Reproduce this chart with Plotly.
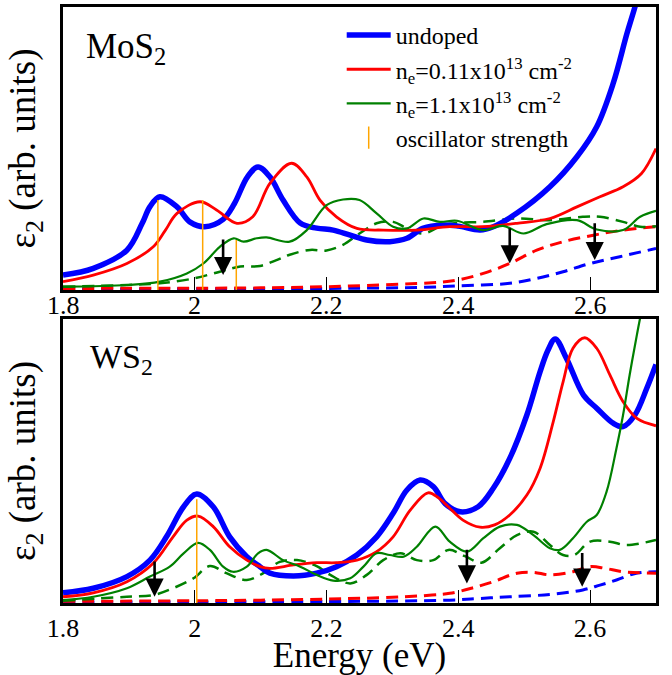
import plotly.graph_objects as go

# ---------------- MoS2 (top panel) ----------------
mos2_undoped_E = [1.80, 1.846, 1.897, 1.92, 1.932, 1.947, 1.973, 1.993, 2.015, 2.043, 2.06, 2.08, 2.096, 2.114, 2.134, 2.16,
                  2.185, 2.21, 2.236, 2.261, 2.296, 2.322, 2.346, 2.377, 2.40, 2.433, 2.453, 2.489, 2.539, 2.58, 2.61,
                  2.635, 2.656, 2.668, 2.685, 2.70]
mos2_undoped_eps = [0.53, 0.77, 1.41, 2.35, 2.95, 3.30, 2.94, 2.40, 2.24, 2.50, 3.05, 4.0, 4.35, 4.0, 3.18, 2.37,
                    2.19, 2.12, 1.94, 1.77, 1.71, 1.83, 2.18, 2.30, 2.26, 2.12, 2.24, 2.72, 3.65, 4.71, 5.77,
                    7.3, 9.07, 10.0, 11.5, 12.5]

mos2_n011_E = [1.80, 1.846, 1.897, 1.937, 1.955, 1.973, 2.008, 2.033, 2.064, 2.088, 2.114, 2.147, 2.17, 2.19, 2.215,
               2.246, 2.286, 2.337, 2.387, 2.437, 2.489, 2.539, 2.58, 2.615, 2.65, 2.678, 2.70]
mos2_n011_eps = [0.30, 0.53, 0.94, 1.53, 2.10, 2.71, 3.12, 2.83, 2.36, 2.59, 3.77, 4.48, 4.0, 3.18, 2.59,
                 2.18, 2.12, 2.12, 2.24, 2.24, 2.36, 2.53, 2.94, 3.30, 3.65, 4.12, 5.0]

mos2_n11_E = [1.80, 1.897, 1.947, 1.988, 2.013, 2.038, 2.059, 2.074, 2.094, 2.109, 2.144, 2.17, 2.20, 2.225, 2.25,
              2.276, 2.301, 2.322, 2.347, 2.372, 2.398, 2.437, 2.468, 2.499, 2.534, 2.58, 2.61, 2.65, 2.676, 2.70]
mos2_n11_eps = [0.12, 0.18, 0.30, 0.59, 0.94, 1.53, 1.83, 1.71, 1.83, 1.86, 1.71, 2.12, 3.0, 3.20, 3.18,
                2.71, 2.24, 2.18, 2.53, 2.41, 2.45, 2.12, 2.27, 2.0, 2.33, 2.47, 2.14, 2.12, 2.59, 2.80]

mos2_n11_dash_E = [1.80, 1.897, 1.947, 1.998, 2.038, 2.069, 2.099, 2.124, 2.144, 2.175, 2.20, 2.225, 2.25, 2.276,
                   2.301, 2.322, 2.347, 2.377, 2.40, 2.437, 2.489, 2.539, 2.589, 2.615, 2.65, 2.676, 2.70]
mos2_n11_dash_eps = [0.12, 0.18, 0.24, 0.41, 0.65, 0.83, 0.85, 1.06, 1.25, 1.42, 1.40, 1.60, 2.0, 2.36,
                     2.41, 2.18, 2.0, 2.30, 2.38, 2.41, 2.53, 2.47, 2.59, 2.59, 2.41, 2.24, 2.26]

mos2_n011_dash_E = [1.80, 2.10, 2.20, 2.30, 2.36, 2.397, 2.438, 2.478, 2.519, 2.559, 2.605, 2.65, 2.70]
mos2_n011_dash_eps = [0.06, 0.08, 0.12, 0.20, 0.26, 0.35, 0.59, 0.94, 1.41, 1.71, 1.94, 2.12, 2.24]

mos2_undoped_dash_E = [1.80, 2.20, 2.35, 2.397, 2.478, 2.519, 2.559, 2.60, 2.645, 2.70]
mos2_undoped_dash_eps = [0.04, 0.06, 0.10, 0.15, 0.24, 0.41, 0.65, 0.94, 1.18, 1.47]

mos2_osc_E = [1.944, 2.012, 2.063]
mos2_osc_h = [3.18, 3.18, 1.77]

mos2_arrow_E = [2.043, 2.478, 2.607]
mos2_arrow_tail = [1.84, 2.24, 2.41]
mos2_arrow_head = [0.53, 0.94, 1.06]

# ---------------- WS2 (bottom panel) ----------------
ws2_undoped_E = [1.80, 1.846, 1.897, 1.932, 1.957, 1.983, 2.003, 2.028, 2.053, 2.079, 2.099, 2.114, 2.15, 2.185,
                 2.215, 2.246, 2.276, 2.301, 2.322, 2.342, 2.362, 2.38, 2.403, 2.43, 2.453, 2.478, 2.504, 2.524,
                 2.536, 2.547, 2.564, 2.59, 2.61, 2.635, 2.65, 2.668, 2.686, 2.70]
ws2_undoped_eps = [0.36, 0.52, 0.93, 1.51, 2.33, 3.39, 3.84, 3.39, 2.33, 1.63, 1.28, 1.05, 0.95, 1.05,
                   1.28, 1.69, 2.33, 3.16, 3.98, 4.33, 4.1, 3.5, 3.21, 3.39, 4.04, 5.09, 6.62, 8.14,
                   8.9, 9.30, 8.62, 7.32, 6.86, 6.33, 6.21, 6.62, 7.56, 8.4]

ws2_n011_E = [1.80, 1.846, 1.897, 1.937, 1.967, 1.988, 2.005, 2.028, 2.053, 2.079, 2.099, 2.114, 2.15, 2.185, 2.215,
              2.246, 2.276, 2.301, 2.327, 2.354, 2.37, 2.385, 2.407, 2.433, 2.455, 2.478, 2.504, 2.524, 2.544,
              2.559, 2.574, 2.592, 2.61, 2.63, 2.65, 2.671, 2.70]
ws2_n011_eps = [0.22, 0.36, 0.75, 1.40, 2.33, 2.92, 3.06, 2.69, 1.98, 1.51, 1.28, 1.22, 1.34, 1.42, 1.42,
                1.51, 1.81, 2.33, 3.27, 3.88, 3.70, 3.38, 2.92, 2.67, 2.75, 3.10, 3.80, 4.74, 6.38,
                7.79, 8.97, 9.34, 8.97, 8.03, 7.09, 6.50, 6.24]

ws2_n11_E = [1.80, 1.846, 1.897, 1.932, 1.962, 1.983, 2.005, 2.023, 2.043, 2.058, 2.079, 2.096, 2.109, 2.134, 2.16,
             2.185, 2.21, 2.236, 2.256, 2.276, 2.296, 2.317, 2.337, 2.365, 2.387, 2.413, 2.438, 2.463, 2.489,
             2.514, 2.539, 2.554, 2.574, 2.595, 2.61, 2.625, 2.64, 2.65, 2.66, 2.671, 2.68, 2.70]
ws2_n11_eps = [0.10, 0.22, 0.52, 0.93, 1.28, 1.75, 2.12, 1.87, 1.28, 1.10, 1.28, 1.75, 1.87, 1.51, 1.28,
               0.99, 0.79, 0.87, 1.28, 1.75, 1.69, 1.63, 1.98, 2.69, 2.16, 1.81, 2.28, 2.69, 2.75,
               2.39, 1.93, 1.87, 2.28, 2.86, 3.10, 3.92, 5.45, 6.62, 8.03, 9.44, 10.5, 12.5]

ws2_n11_dash_E = [1.80, 1.897, 1.937, 1.967, 1.998, 2.023, 2.048, 2.079, 2.104, 2.129, 2.155, 2.185, 2.205, 2.236,
                  2.261, 2.286, 2.312, 2.337, 2.362, 2.385, 2.41, 2.435, 2.463, 2.489, 2.514, 2.539, 2.559, 2.576,
                  2.60, 2.63, 2.655, 2.70]
ws2_n11_dash_eps = [0.08, 0.22, 0.28, 0.52, 0.87, 1.30, 1.05, 0.81, 1.05, 1.45, 1.51, 1.30, 1.0, 0.69,
                    0.99, 1.51, 1.75, 1.51, 1.51, 1.87, 1.65, 1.42, 1.93, 2.39, 2.51, 2.04, 1.69, 1.69,
                    2.16, 2.16, 2.04, 2.22]

ws2_n011_dash_E = [1.80, 2.10, 2.30, 2.36, 2.387, 2.42, 2.453, 2.489, 2.514, 2.539, 2.574, 2.60, 2.623, 2.65, 2.70]
ws2_n011_dash_eps = [0.06, 0.10, 0.20, 0.28, 0.34, 0.52, 0.75, 1.05, 1.08, 0.99, 1.10, 1.28, 1.22, 1.10, 1.05]

ws2_undoped_dash_E = [1.80, 2.20, 2.387, 2.433, 2.478, 2.539, 2.589, 2.615, 2.64, 2.67, 2.70]
ws2_undoped_dash_eps = [0.04, 0.05, 0.10, 0.16, 0.22, 0.30, 0.46, 0.63, 0.81, 1.05, 1.10]

ws2_osc_E = [2.003]
ws2_osc_h = [3.65]

ws2_arrow_E = [1.939, 2.413, 2.588]
ws2_arrow_tail = [1.51, 1.93, 1.81]
ws2_arrow_head = [0.22, 0.69, 0.57]

# ---------------- axis / labels ----------------
tick_vals = [1.8, 2.0, 2.2, 2.4, 2.6]
tick_text = ["1.8", "2", "2.2", "2.4", "2.6"]
legend_names = ["undoped", "n<sub>e</sub>=0.11x10<sup>13</sup> cm<sup>-2</sup>",
                "n<sub>e</sub>=1.1x10<sup>13</sup> cm<sup>-2</sup>", "oscillator strength"]
panel_labels = ["MoS<sub>2</sub>", "WS<sub>2</sub>"]

BLUE = "#0000ff"
RED = "#ff0000"
GREEN = "#008000"
ORANGE = "#ffa500"
FONT = "Liberation Serif, Times New Roman, serif"

fig = go.Figure()


def add_panel(xa, ya, und, n011, n11, und_d, n011_d, n11_d, osc, arrows, show_legend):
    dash = "12px,7px"
    fig.add_trace(go.Scatter(x=und_d[0], y=und_d[1], mode="lines", line=dict(color=BLUE, width=3, dash=dash, shape="spline"),
                             xaxis=xa, yaxis=ya, showlegend=False))
    fig.add_trace(go.Scatter(x=n011_d[0], y=n011_d[1], mode="lines", line=dict(color=RED, width=3, dash=dash, shape="spline"),
                             xaxis=xa, yaxis=ya, showlegend=False))
    fig.add_trace(go.Scatter(x=n11_d[0], y=n11_d[1], mode="lines", line=dict(color=GREEN, width=2.5, dash=dash, shape="spline"),
                             xaxis=xa, yaxis=ya, showlegend=False))
    fig.add_trace(go.Scatter(x=und[0], y=und[1], mode="lines", line=dict(color=BLUE, width=5.5, shape="spline"),
                             xaxis=xa, yaxis=ya, name=legend_names[0], showlegend=show_legend, legendrank=1))
    fig.add_trace(go.Scatter(x=n011[0], y=n011[1], mode="lines", line=dict(color=RED, width=2.8, shape="spline"),
                             xaxis=xa, yaxis=ya, name=legend_names[1], showlegend=show_legend, legendrank=2))
    fig.add_trace(go.Scatter(x=n11[0], y=n11[1], mode="lines", line=dict(color=GREEN, width=2.2, shape="spline"),
                             xaxis=xa, yaxis=ya, name=legend_names[2], showlegend=show_legend, legendrank=3))
    ox, oy = [], []
    for e, h in zip(osc[0], osc[1]):
        ox += [e, e, None]
        oy += [0, h, None]
    fig.add_trace(go.Scatter(x=ox, y=oy, mode="lines", line=dict(color=ORANGE, width=1.5),
                             xaxis=xa, yaxis=ya, showlegend=False))
    xr = "x" if xa == "x" else "x2"
    yr = "y" if ya == "y" else "y2"
    for e, t, h in zip(arrows[0], arrows[1], arrows[2]):
        fig.add_annotation(x=e, y=h, ax=e, ay=t, xref=xr, yref=yr, axref=xr, ayref=yr, text="",
                           showarrow=True, arrowhead=2, arrowsize=1.4, arrowwidth=2.6, arrowcolor="black")


add_panel("x", "y", (mos2_undoped_E, mos2_undoped_eps), (mos2_n011_E, mos2_n011_eps), (mos2_n11_E, mos2_n11_eps),
          (mos2_undoped_dash_E, mos2_undoped_dash_eps), (mos2_n011_dash_E, mos2_n011_dash_eps),
          (mos2_n11_dash_E, mos2_n11_dash_eps), (mos2_osc_E, mos2_osc_h),
          (mos2_arrow_E, mos2_arrow_tail, mos2_arrow_head), True)
add_panel("x2", "y2", (ws2_undoped_E, ws2_undoped_eps), (ws2_n011_E, ws2_n011_eps), (ws2_n11_E, ws2_n11_eps),
          (ws2_undoped_dash_E, ws2_undoped_dash_eps), (ws2_n011_dash_E, ws2_n011_dash_eps),
          (ws2_n11_dash_E, ws2_n11_dash_eps), (ws2_osc_E, ws2_osc_h),
          (ws2_arrow_E, ws2_arrow_tail, ws2_arrow_head), False)

# legend-only entry for oscillator strength (vertical tick symbol)
fig.add_trace(go.Scatter(x=[None], y=[None], mode="markers", name=legend_names[3], legendrank=4,
                         marker=dict(symbol="line-ns", size=20, line=dict(color=ORANGE, width=1.5)),
                         xaxis="x", yaxis="y"))

xaxis_common = dict(range=[1.8, 2.7], tickvals=tick_vals, ticktext=tick_text, ticks="inside", ticklen=13,
                    tickwidth=1, tickcolor="black", showline=True, linecolor="black", linewidth=2.5, mirror=True,
                    showgrid=False, zeroline=False, automargin=False,
                    tickfont=dict(family=FONT, size=26, color="black"))
yaxis_common = dict(range=[0, 10], showticklabels=False, ticks="", showline=True, linecolor="black", linewidth=2.5,
                    mirror=True, showgrid=False, zeroline=False, automargin=False,
                    title=dict(text="ε<sub>2</sub> (arb. units)", font=dict(family=FONT, size=37, color="black"),
                               standoff=14))

fig.update_layout(
    width=672, height=675,
    margin=dict(l=63, r=16, t=7, b=72, autoexpand=False),
    paper_bgcolor="white", plot_bgcolor="white",
    xaxis=dict(**xaxis_common, anchor="y", showticklabels=False),
    xaxis2=dict(**xaxis_common, anchor="y2",
                title=dict(text="Energy (eV)", font=dict(family=FONT, size=35, color="black"), standoff=0)),
    yaxis=dict(**yaxis_common, domain=[0.525, 1.0], anchor="x"),
    yaxis2=dict(**yaxis_common, domain=[0.0, 0.4765], anchor="x2"),
    legend=dict(x=0.47, y=0.99, xanchor="left", yanchor="top", bgcolor="rgba(0,0,0,0)",
                font=dict(family=FONT, size=24, color="black"), tracegroupgap=0, itemwidth=44),
    showlegend=True,
)

# top-panel tick labels sit closer to the axis than the default placement allows
for v, t in zip(tick_vals, tick_text):
    fig.add_annotation(x=v, y=0, xref="x", yref="y domain", yanchor="top", yshift=1, text=t, showarrow=False,
                       font=dict(family=FONT, size=26, color="black"))

fig.add_annotation(text=panel_labels[0], xref="x domain", yref="y domain", x=0.035, y=0.935,
                   xanchor="left", yanchor="top", showarrow=False,
                   font=dict(family=FONT, size=35, color="black"))
fig.add_annotation(text=panel_labels[1], xref="x2 domain", yref="y2 domain", x=0.043, y=0.94,
                   xanchor="left", yanchor="top", showarrow=False,
                   font=dict(family=FONT, size=34, color="black"))

fig.write_html("out.html", config={"displayModeBar": False},
               post_script="document.body.style.margin='0px';")
